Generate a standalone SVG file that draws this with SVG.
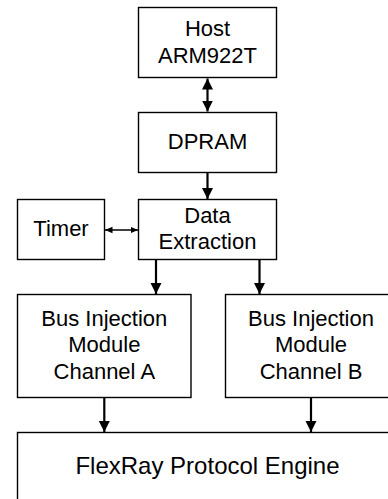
<svg xmlns="http://www.w3.org/2000/svg" width="388" height="499" viewBox="0 0 388 499">
<defs>
<style>
.box{fill:#fff;stroke:#000;stroke-width:1.4}
.t{font-family:"Liberation Sans",Arial,sans-serif;font-size:22px;fill:#000;text-anchor:middle}
.big{font-size:24px}
.thick{stroke:#000;stroke-width:2.2;fill:none}
.thin{stroke:#000;stroke-width:1.4;fill:none}
</style>
<marker id="ah" markerUnits="userSpaceOnUse" markerWidth="12" markerHeight="12" viewBox="0 0 12 12" refX="11" refY="6" orient="auto-start-reverse">
<path d="M0,0.5 L11,6 L0,11.5 Z" fill="#000"/>
</marker>
<marker id="ahs" markerUnits="userSpaceOnUse" markerWidth="8" markerHeight="8" viewBox="0 0 8 8" refX="7.5" refY="4" orient="auto-start-reverse">
<path d="M0,0.8 L7.5,4 L0,7.2 Z" fill="#000"/>
</marker>
</defs>
<rect width="388" height="499" fill="#fff"/>
<g id="host"><rect class="box" x="138.5" y="7.5" width="138" height="70"/><text class="t" x="207.5" y="36">Host</text><text class="t" x="207.5" y="63">ARM922T</text></g>
<g id="dpram"><rect class="box" x="138.5" y="112.5" width="138" height="60"/><text class="t" x="207.5" y="149">DPRAM</text></g>
<g id="timer"><rect class="box" x="17.5" y="199.5" width="87" height="60"/><text class="t" x="61" y="236">Timer</text></g>
<g id="extract"><rect class="box" x="138.5" y="199.5" width="138" height="60"/><text class="t" x="207.5" y="223">Data</text><text class="t" x="207.5" y="249">Extraction</text></g>
<g id="busA"><rect class="box" x="17.5" y="294.5" width="173.5" height="103"/><text class="t" x="104.3" y="326">Bus Injection</text><text class="t" x="104.3" y="352">Module</text><text class="t" x="104.3" y="379">Channel A</text></g>
<g id="busB"><rect class="box" x="225.5" y="294.5" width="173.5" height="103"/><text class="t" x="311" y="326">Bus Injection</text><text class="t" x="311" y="352">Module</text><text class="t" x="311" y="379">Channel B</text></g>
<g id="flexray"><rect class="box" x="17.5" y="432.5" width="380" height="90"/><text class="t big" x="207.5" y="473.5">FlexRay Protocol Engine</text></g>
<g id="connectors">
<path class="thick" d="M207.5,78.5 V111.5" marker-start="url(#ah)" marker-end="url(#ah)"/>
<path class="thick" d="M207.5,173 V199" marker-end="url(#ah)"/>
<path class="thin" d="M105,230 H138" marker-start="url(#ahs)" marker-end="url(#ahs)"/>
<path class="thick" d="M156,260 V294" marker-end="url(#ah)"/>
<path class="thick" d="M259.5,260 V294" marker-end="url(#ah)"/>
<path class="thick" d="M104.3,398 V432" marker-end="url(#ah)"/>
<path class="thick" d="M311,398 V432" marker-end="url(#ah)"/>
</g>
</svg>
